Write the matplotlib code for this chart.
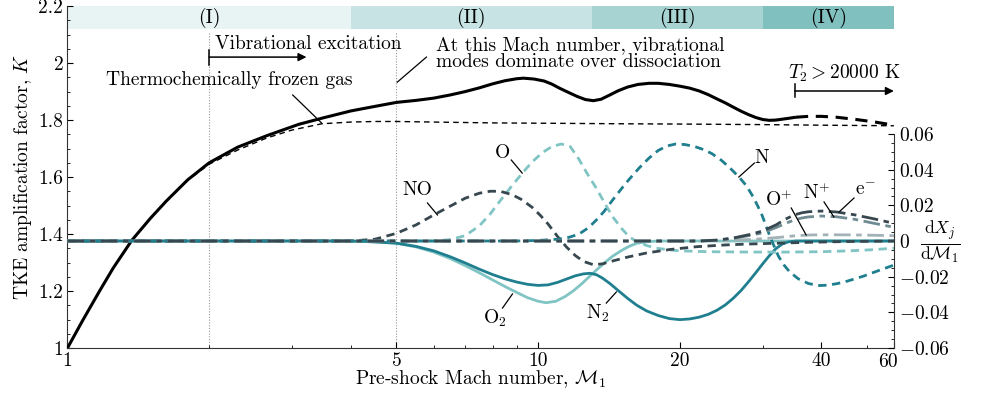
import numpy as np
import matplotlib
matplotlib.use('Agg')
import matplotlib.pyplot as plt
from matplotlib.ticker import FixedLocator, FixedFormatter, MultipleLocator, NullFormatter
from matplotlib.transforms import offset_copy

plt.rcParams['font.family'] = 'serif'
plt.rcParams['font.serif'] = ['cmr10', 'DejaVu Serif']
plt.rcParams['mathtext.fontset'] = 'cm'
plt.rcParams['axes.formatter.use_mathtext'] = True
FS = 14

# TKE amplification factor K
M_K = [1.0, 1.08, 1.17, 1.25, 1.37, 1.5, 1.62, 1.8, 2.0, 2.3, 2.65, 3.1, 3.5, 4.0, 4.5, 5.0,
       5.5, 6.0, 6.5, 7.0, 7.5, 8.0, 8.5, 9.0, 9.3, 9.8, 10.3, 10.7, 11.1, 11.6, 12.1, 12.6,
       13.1, 13.6, 14.2, 14.8, 15.5, 16.3, 17.2, 18.0, 19.0, 20.0, 21.0, 22.0, 23.0, 24.0,
       25.0, 26.0, 27.0, 28.0, 29.0, 30.0, 31.0, 32.0, 33.0, 34.0, 35.3]
K = [1.0, 1.10, 1.20, 1.28, 1.378, 1.455, 1.515, 1.59, 1.65, 1.705, 1.745, 1.785, 1.808, 1.832,
     1.848, 1.862, 1.869, 1.877, 1.888, 1.90, 1.913, 1.927, 1.938, 1.945, 1.947, 1.944, 1.937,
     1.926, 1.912, 1.897, 1.883, 1.872, 1.868, 1.873, 1.888, 1.903, 1.916, 1.925, 1.929, 1.929,
     1.925, 1.919, 1.912, 1.902, 1.889, 1.874, 1.86, 1.845, 1.831, 1.819, 1.809, 1.802, 1.799,
     1.80, 1.803, 1.806, 1.81]
M_K_hot = [35.3, 37.5, 40.0, 43.0, 47.4, 52.0, 57.0]
K_hot = [1.81, 1.813, 1.813, 1.81, 1.802, 1.793, 1.782]

# thermochemically frozen gas
M_frozen = [1.0, 1.08, 1.17, 1.25, 1.37, 1.5, 1.62, 1.8, 2.0, 2.3, 2.65, 3.0, 3.47, 4.0, 4.5,
            5.0, 6.0, 8.0, 10.0, 15.0, 20.0, 30.0, 40.0, 57.0]
K_frozen = [1.0, 1.10, 1.20, 1.28, 1.378, 1.455, 1.515, 1.588, 1.645, 1.695, 1.737, 1.765,
            1.787, 1.793, 1.795, 1.795, 1.793, 1.79, 1.789, 1.787, 1.786, 1.784, 1.782, 1.78]

# dX_j / dM_1 for each species
M_NO = [1, 4, 4.5, 5, 5.5, 6, 6.5, 7, 7.5, 7.9, 8.3, 8.8, 9.2, 9.7, 10.1, 10.5, 11, 11.5, 12,
        12.5, 13.1, 13.7, 14.4, 15.5, 17, 19, 21.7, 25, 28, 32.5, 38, 45, 57]
dNO = [0, 0, 0.001, 0.0043, 0.009, 0.0146, 0.0195, 0.024, 0.0268, 0.0279, 0.0279, 0.026,
       0.0234, 0.019, 0.0145, 0.0095, 0.0025, -0.0035, -0.0082, -0.0115, -0.0133, -0.0128,
       -0.0112, -0.009, -0.0067, -0.0048, -0.0032, -0.0022, -0.0017, -0.0012, -0.0007,
       -0.0003, 0]

M_O = [1, 6, 6.5, 7, 7.5, 7.9, 8.3, 8.8, 9.25, 9.7, 10.2, 10.7, 11.2, 11.7, 12.2, 12.7, 13.3,
       13.9, 14.4, 15.1, 15.6, 16.1, 17, 17.8, 19, 20, 23, 28, 34, 40, 46, 52, 57]
dO = [0, 0, 0.0008, 0.003, 0.0085, 0.015, 0.0225, 0.031, 0.038, 0.0442, 0.0495, 0.053, 0.0544,
      0.053, 0.046, 0.038, 0.0295, 0.0205, 0.0136, 0.0065, 0.0025, 0.0, -0.0025, -0.004,
      -0.005, -0.0055, -0.006, -0.0062, -0.0062, -0.006, -0.0055, -0.0048, -0.004]

M_N = [1, 9, 10, 11, 11.6, 12.2, 12.8, 13.3, 13.8, 14.4, 15.0, 15.6, 16.4, 17.2, 18.0, 18.8,
       19.6, 20.5, 21.5, 22.5, 23.4, 24.5, 25.6, 26.8, 27.7, 28.6, 29.3, 29.9, 30.5, 31.1,
       31.8, 32.4, 33.3, 34.2, 35.7, 37.5, 39.3, 41, 43, 45, 49, 53, 57]
dN = [0, 0, 0.0003, 0.001, 0.002, 0.0038, 0.0075, 0.0118, 0.0165, 0.023, 0.029, 0.0345, 0.041,
      0.0465, 0.0508, 0.0533, 0.0544, 0.0541, 0.053, 0.0512, 0.049, 0.0453, 0.0408, 0.0355,
      0.031, 0.025, 0.0195, 0.0145, 0.0085, 0.0024, -0.0035, -0.0085, -0.0135, -0.0172,
      -0.0212, -0.0238, -0.025, -0.0248, -0.024, -0.0228, -0.0198, -0.0165, -0.0135]

M_O2 = [1, 4, 4.5, 5, 5.5, 6, 6.5, 7, 7.5, 8, 8.5, 9, 9.5, 10, 10.4, 10.9, 11.4, 11.9, 12.4,
        12.9, 13.4, 13.9, 14.4, 15.0, 15.6, 16.2, 17, 18, 57]
dO2 = [0, 0, -0.0005, -0.0013, -0.0033, -0.0062, -0.0098, -0.0138, -0.0178, -0.0218, -0.0255,
       -0.0288, -0.0318, -0.0338, -0.0346, -0.0338, -0.0312, -0.0278, -0.0238, -0.0195,
       -0.0155, -0.0118, -0.0085, -0.0055, -0.003, -0.0013, -0.0004, 0, 0]

M_N2 = [1, 4, 4.5, 5, 5.5, 6, 6.5, 7, 7.5, 8, 8.5, 9, 9.5, 10, 10.5, 11, 11.5, 12, 12.5, 12.9,
        13.3, 13.7, 14.2, 14.8, 15.5, 16.2, 17, 18, 19, 20, 21, 22, 23, 24, 25, 26, 27, 28,
        29, 30, 31, 32, 33, 34, 35.3, 57]
dN2 = [0, 0, -0.0005, -0.0012, -0.003, -0.0055, -0.0088, -0.0123, -0.0158, -0.0188, -0.0212,
       -0.023, -0.0243, -0.0249, -0.0246, -0.0232, -0.0213, -0.0195, -0.0184, -0.0181,
       -0.0189, -0.0208, -0.0238, -0.0278, -0.0322, -0.036, -0.0392, -0.0418, -0.0435,
       -0.0441, -0.0437, -0.0427, -0.0411, -0.0388, -0.0358, -0.032, -0.0277, -0.0228,
       -0.0178, -0.0128, -0.0082, -0.0043, -0.0017, -0.0005, 0, 0]

M_Op = [1, 20, 25, 28, 30, 32.4, 35, 38, 42, 47, 52, 57]
dOp = [0, 0, 0.0003, 0.0008, 0.0013, 0.002, 0.0029, 0.0034, 0.0035, 0.0034, 0.0032, 0.003]

M_Np = [1, 22, 24, 26, 28, 29.9, 32, 33.5, 35, 36.3, 37.5, 40, 43, 47, 52, 57]
dNp = [0, 0, 0.0005, 0.0015, 0.003, 0.0045, 0.0075, 0.0098, 0.0118, 0.0129, 0.0135, 0.014,
       0.0136, 0.0122, 0.0098, 0.0077]
dE = [0, 0, 0.0005, 0.0017, 0.0035, 0.0055, 0.009, 0.0122, 0.0146, 0.0158, 0.0164, 0.0168,
      0.0163, 0.0147, 0.0123, 0.0099]

regions = ['(I)', '(II)', '(III)', '(IV)']
region_edges = [1, 4, 13, 30, 57]
region_colors = ['#e8f4f4', '#c7e3e3', '#a7d4d3', '#80c0bf']

teal = '#1f7f8f'
light = '#80c4c4'
dark = '#37474f'
mid = '#6f8a92'
pale = '#a2b2b6'

fig = plt.figure(figsize=(9.85, 3.93), dpi=100)
ax = fig.add_axes([0.0685, 0.1145, 0.8390, 0.8700])
ax2 = fig.add_axes([0.0685, 0.1145, 0.8390, 0.5445])
ax2.patch.set_alpha(0)

ax.set_xscale('log')
ax2.set_xscale('log')
ax.set_xlim(1, 57)
ax2.set_xlim(1, 57)
ax.set_ylim(1, 2.2)
ax2.set_ylim(-0.06, 0.06)

# top band with regimes
for i, lab in enumerate(regions):
    a, b = region_edges[i], region_edges[i + 1]
    ax.axvspan(a, b, ymin=(2.119 - 1) / 1.2, ymax=1, color=region_colors[i], lw=0, zorder=0)
    ax.text(np.sqrt(a * b), 2.16, lab, ha='center', va='center', fontsize=FS)

for m in [2, 5]:
    ax.plot([m, m], [1, 2.11], color='#999999', lw=0.8, ls=(0, (1, 1.5)), zorder=1)

ax.plot(M_frozen, K_frozen, color='k', lw=1.0, ls=(0, (4, 3)), zorder=3)
ax.plot(M_K, K, color='k', lw=2.2, zorder=4, solid_capstyle='butt')
ax.plot(M_K_hot, K_hot, color='k', lw=2.2, ls=(0, (4, 2.5)), zorder=4)

# species
ax2.plot(M_O2, dO2, color=light, lw=2)
ax2.plot(M_N2, dN2, color=teal, lw=2)
ax2.plot(M_O, dO, color=light, lw=2, ls=(0, (3, 2)))
ax2.plot(M_NO, dNO, color=dark, lw=2, ls=(0, (3, 2)))
ax2.plot(M_N, dN, color=teal, lw=2, ls=(0, (3, 2)))
ax2.plot(M_Op, dOp, color=pale, lw=2, ls=(0, (6, 2, 2, 2)))
ax2.plot(M_Np, dNp, color=mid, lw=2, ls=(0, (6, 2, 2, 2)))
ax2.plot(M_Np, dE, color=dark, lw=2, ls=(0, (6, 2, 2, 2)))

# species labels with leader lines
labels = [
    ('NO', (5.54, 0.0286), (5.82, 0.0213), (6.11, 0.0146)),
    ('O', (8.39, 0.0494), (8.77, 0.0454), (9.25, 0.0381)),
    ('N', (29.9, 0.0466), (28.8, 0.0437), (26.7, 0.0359)),
    (r'O$^{+}$', (32.5, 0.023), (34.5, 0.0185), (37.1, 0.0034)),
    (r'N$^{+}$', (39.1, 0.0269), (40.5, 0.0219), (42.5, 0.0135)),
    (r'e$^{-}$', (49.7, 0.0286), (46.9, 0.0241), (43.6, 0.0163)),
    (r'O$_2$', (8.08, -0.0432), (8.4, -0.0376), (8.82, -0.0297)),
    (r'N$_2$', (13.4, -0.0404), (13.96, -0.0348), (14.66, -0.0286)),
]
for lab, tpos, p0, p1 in labels:
    ax2.text(tpos[0], tpos[1], lab, ha='center', va='center', fontsize=FS)
    ax2.plot([p0[0], p1[0]], [p0[1], p1[1]], color='k', lw=0.9)

# annotations on main axes
ax.text(2.21, 1.94, 'Thermochemically frozen gas', ha='center', va='center', fontsize=FS)
ax.plot([3.01, 3.47], [1.888, 1.789], color='k', lw=0.9)

ax.text(2.06, 2.067, 'Vibrational excitation', ha='left', va='center', fontsize=FS)
ax.annotate('', xy=(3.22, 2.021), xytext=(2.0, 2.021),
            arrowprops=dict(arrowstyle='-|>', color='k', lw=1.1, mutation_scale=12,
                            shrinkA=0, shrinkB=0))
ax.plot([2.0, 2.0], [1.995, 2.045], color='k', lw=1.1)

ax.text(6.08, 2.033, 'At this Mach number, vibrational\nmodes dominate over dissociation',
        ha='left', va='center', fontsize=FS, linespacing=0.9)
ax.plot([5.02, 5.79], [1.933, 2.021], color='k', lw=0.9)

ax.text(44.7, 1.965, r'$T_2 > 20000$ K', ha='center', va='center', fontsize=FS)
ax.annotate('', xy=(57, 1.902), xytext=(35.1, 1.902),
            arrowprops=dict(arrowstyle='-|>', color='k', lw=1.1, mutation_scale=12,
                            shrinkA=0, shrinkB=0))
ax.plot([35.1, 35.1], [1.88, 1.926], color='k', lw=1.1)

# axes styling
for s in ['top', 'right']:
    ax.spines[s].set_visible(False)
for s in ['top', 'left', 'bottom']:
    ax2.spines[s].set_visible(False)
ax2.spines['right'].set_color('#333333')
ax.spines['left'].set_color('#333333')
ax.spines['bottom'].set_color('#333333')

ax.xaxis.set_major_locator(FixedLocator([1, 5, 10, 20, 40, 57]))
ax.xaxis.set_major_formatter(FixedFormatter(['1', '5', '10', '20', '40', '']))
ax.xaxis.set_minor_locator(FixedLocator([2, 3, 4, 6, 7, 8, 9, 30, 50]))
ax.xaxis.set_minor_formatter(NullFormatter())
ax.yaxis.set_major_locator(FixedLocator([1, 1.2, 1.4, 1.6, 1.8, 2.0, 2.2]))
ax.yaxis.set_major_formatter(FixedFormatter(['1', '1.2', '1.4', '1.6', '1.8', '2', '2.2']))
ax.yaxis.set_minor_locator(MultipleLocator(0.05))
ax.tick_params(which='both', direction='in', top=False, right=False, labelsize=FS)
ax.tick_params(which='major', length=4.5, width=0.8, pad=3)
ax.tick_params(which='minor', length=2.5, width=0.6)
# last x tick label, nudged left so it clears the right axis labels
ax.text(57, 0, '60', fontsize=FS, ha='center', va='top',
        transform=offset_copy(ax.get_xaxis_transform(), fig=fig, x=-4, y=-3.5, units='points'))

ax2.set_xticks([])
ax2.xaxis.set_minor_locator(FixedLocator([]))
ax2.yaxis.tick_right()
ax2.yaxis.set_major_locator(FixedLocator([-0.06, -0.04, -0.02, 0, 0.02, 0.04, 0.06]))
ax2.yaxis.set_major_formatter(FixedFormatter([r'$-0.06$', r'$-0.04$', r'$-0.02$', '0',
                                              '0.02', '0.04', '0.06']))
ax2.yaxis.set_minor_locator(MultipleLocator(0.005))
ax2.tick_params(which='both', direction='in', left=False, labelsize=FS)
ax2.tick_params(which='major', length=4.5, width=0.8, pad=4)
ax2.tick_params(which='minor', length=2.5, width=0.6)

ax.set_xlabel(r'Pre-shock Mach number, $\mathcal{M}_1$', fontsize=FS, labelpad=-1)
ax.set_ylabel(r'TKE amplification factor, $K$', fontsize=FS, labelpad=3)
fig.text(0.955, 0.385, r'$\frac{\mathrm{d}X_j}{\mathrm{d}\mathcal{M}_1}$', ha='center',
         va='center', fontsize=18)

fig.savefig('out.png', dpi=100)
